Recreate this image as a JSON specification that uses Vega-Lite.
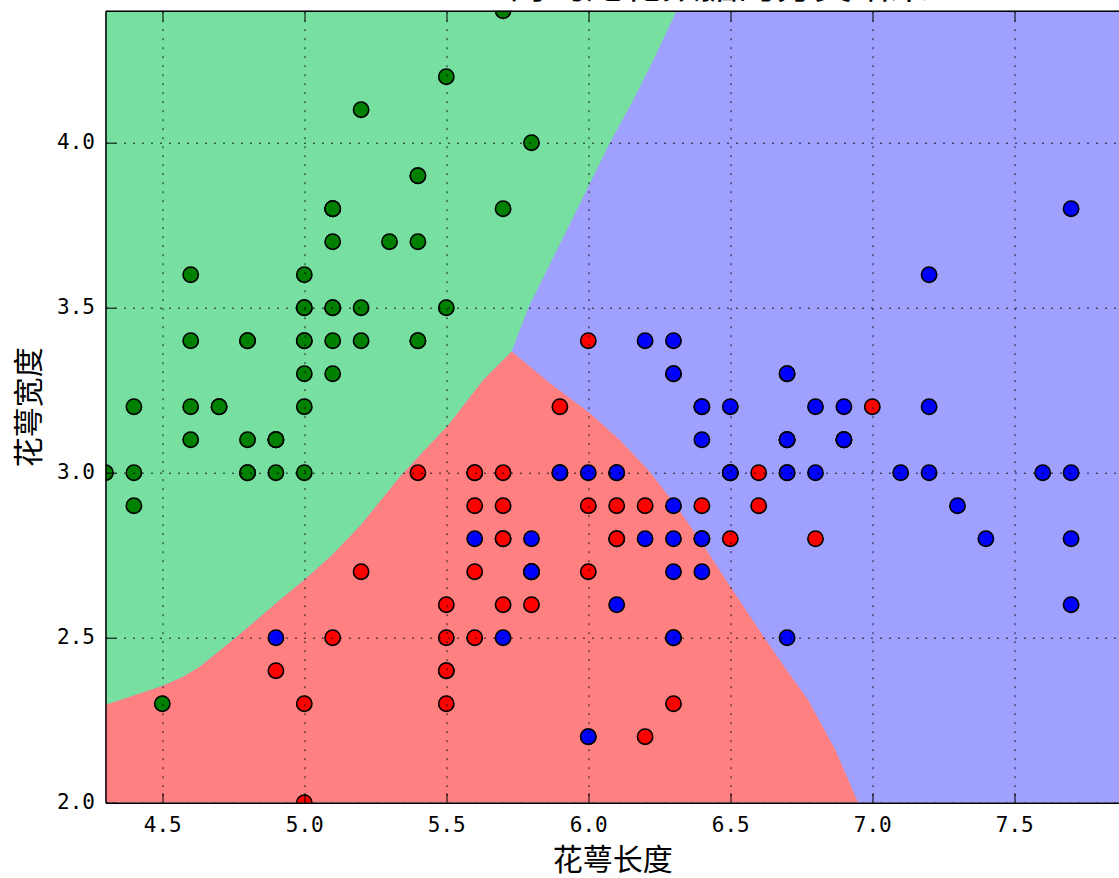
{
  "$schema": "https://vega.github.io/schema/vega-lite/v6.json",
  "width": 1013.5,
  "height": 792,
  "autosize": {"type": "none"},
  "padding": {"left": 105.5, "top": 10.7, "right": 0, "bottom": 75.3},
  "background": "white",
  "title": {"text": "GaussianNB对鸢尾花数据的分类结果", "font": "Noto Sans CJK SC", "fontSize": 38, "fontWeight": "normal", "color": "black", "anchor": "middle", "frame": "group", "offset": 4},
  "datasets": {
    "green": [
      {"x": 4.3, "y": 2.296}, {"x": 4.5, "y": 2.354}, {"x": 4.574, "y": 2.382}, {"x": 4.632, "y": 2.412},
      {"x": 4.756, "y": 2.498}, {"x": 4.914, "y": 2.614}, {"x": 5.0, "y": 2.675}, {"x": 5.1, "y": 2.752},
      {"x": 5.2, "y": 2.842}, {"x": 5.337, "y": 2.988}, {"x": 5.42, "y": 3.065}, {"x": 5.507, "y": 3.144}, {"x": 5.63, "y": 3.281},
      {"x": 5.73, "y": 3.367}, {"x": 5.789, "y": 3.5}, {"x": 5.924, "y": 3.735}, {"x": 6.006, "y": 3.877},
      {"x": 6.076, "y": 4.0}, {"x": 6.158, "y": 4.129}, {"x": 6.229, "y": 4.25}, {"x": 6.311, "y": 4.4}
    ],
    "red": [
      {"x": 4.3, "y": 2.296}, {"x": 4.5, "y": 2.354}, {"x": 4.574, "y": 2.382}, {"x": 4.632, "y": 2.412},
      {"x": 4.756, "y": 2.498}, {"x": 4.914, "y": 2.614}, {"x": 5.0, "y": 2.675}, {"x": 5.1, "y": 2.752},
      {"x": 5.2, "y": 2.842}, {"x": 5.337, "y": 2.988}, {"x": 5.42, "y": 3.065}, {"x": 5.507, "y": 3.144}, {"x": 5.63, "y": 3.281},
      {"x": 5.73, "y": 3.367}, {"x": 5.865, "y": 3.271}, {"x": 6.006, "y": 3.18}, {"x": 6.11, "y": 3.1}, {"x": 6.211, "y": 3.008},
      {"x": 6.3, "y": 2.91}, {"x": 6.39, "y": 2.8}, {"x": 6.5, "y": 2.655}, {"x": 6.62, "y": 2.5}, {"x": 6.7, "y": 2.4}, {"x": 6.774, "y": 2.311},
      {"x": 6.87, "y": 2.16}, {"x": 6.95, "y": 2.0}
    ],
    "points": [
      {"sl":5.1,"sw":3.5,"s":"setosa"},{"sl":4.9,"sw":3.0,"s":"setosa"},{"sl":4.7,"sw":3.2,"s":"setosa"},{"sl":4.6,"sw":3.1,"s":"setosa"},{"sl":5.0,"sw":3.6,"s":"setosa"},
      {"sl":5.4,"sw":3.9,"s":"setosa"},{"sl":4.6,"sw":3.4,"s":"setosa"},{"sl":5.0,"sw":3.4,"s":"setosa"},{"sl":4.4,"sw":2.9,"s":"setosa"},{"sl":4.9,"sw":3.1,"s":"setosa"},
      {"sl":5.4,"sw":3.7,"s":"setosa"},{"sl":4.8,"sw":3.4,"s":"setosa"},{"sl":4.8,"sw":3.0,"s":"setosa"},{"sl":4.3,"sw":3.0,"s":"setosa"},{"sl":5.8,"sw":4.0,"s":"setosa"},
      {"sl":5.7,"sw":4.4,"s":"setosa"},{"sl":5.4,"sw":3.9,"s":"setosa"},{"sl":5.1,"sw":3.5,"s":"setosa"},{"sl":5.7,"sw":3.8,"s":"setosa"},{"sl":5.1,"sw":3.8,"s":"setosa"},
      {"sl":5.4,"sw":3.4,"s":"setosa"},{"sl":5.1,"sw":3.7,"s":"setosa"},{"sl":4.6,"sw":3.6,"s":"setosa"},{"sl":5.1,"sw":3.3,"s":"setosa"},{"sl":4.8,"sw":3.4,"s":"setosa"},
      {"sl":5.0,"sw":3.0,"s":"setosa"},{"sl":5.0,"sw":3.4,"s":"setosa"},{"sl":5.2,"sw":3.5,"s":"setosa"},{"sl":5.2,"sw":3.4,"s":"setosa"},{"sl":4.7,"sw":3.2,"s":"setosa"},
      {"sl":4.8,"sw":3.1,"s":"setosa"},{"sl":5.4,"sw":3.4,"s":"setosa"},{"sl":5.2,"sw":4.1,"s":"setosa"},{"sl":5.5,"sw":4.2,"s":"setosa"},{"sl":4.9,"sw":3.1,"s":"setosa"},
      {"sl":5.0,"sw":3.2,"s":"setosa"},{"sl":5.5,"sw":3.5,"s":"setosa"},{"sl":4.9,"sw":3.1,"s":"setosa"},{"sl":4.4,"sw":3.0,"s":"setosa"},{"sl":5.1,"sw":3.4,"s":"setosa"},
      {"sl":5.0,"sw":3.5,"s":"setosa"},{"sl":4.5,"sw":2.3,"s":"setosa"},{"sl":4.4,"sw":3.2,"s":"setosa"},{"sl":5.0,"sw":3.5,"s":"setosa"},{"sl":5.1,"sw":3.8,"s":"setosa"},
      {"sl":4.8,"sw":3.0,"s":"setosa"},{"sl":5.1,"sw":3.8,"s":"setosa"},{"sl":4.6,"sw":3.2,"s":"setosa"},{"sl":5.3,"sw":3.7,"s":"setosa"},{"sl":5.0,"sw":3.3,"s":"setosa"},
      {"sl":7.0,"sw":3.2,"s":"versicolor"},{"sl":6.4,"sw":3.2,"s":"versicolor"},{"sl":6.9,"sw":3.1,"s":"versicolor"},{"sl":5.5,"sw":2.3,"s":"versicolor"},{"sl":6.5,"sw":2.8,"s":"versicolor"},
      {"sl":5.7,"sw":2.8,"s":"versicolor"},{"sl":6.3,"sw":3.3,"s":"versicolor"},{"sl":4.9,"sw":2.4,"s":"versicolor"},{"sl":6.6,"sw":2.9,"s":"versicolor"},{"sl":5.2,"sw":2.7,"s":"versicolor"},
      {"sl":5.0,"sw":2.0,"s":"versicolor"},{"sl":5.9,"sw":3.0,"s":"versicolor"},{"sl":6.0,"sw":2.2,"s":"versicolor"},{"sl":6.1,"sw":2.9,"s":"versicolor"},{"sl":5.6,"sw":2.9,"s":"versicolor"},
      {"sl":6.7,"sw":3.1,"s":"versicolor"},{"sl":5.6,"sw":3.0,"s":"versicolor"},{"sl":5.8,"sw":2.7,"s":"versicolor"},{"sl":6.2,"sw":2.2,"s":"versicolor"},{"sl":5.6,"sw":2.5,"s":"versicolor"},
      {"sl":5.9,"sw":3.2,"s":"versicolor"},{"sl":6.1,"sw":2.8,"s":"versicolor"},{"sl":6.3,"sw":2.5,"s":"versicolor"},{"sl":6.1,"sw":2.8,"s":"versicolor"},{"sl":6.4,"sw":2.9,"s":"versicolor"},
      {"sl":6.6,"sw":3.0,"s":"versicolor"},{"sl":6.8,"sw":2.8,"s":"versicolor"},{"sl":6.7,"sw":3.0,"s":"versicolor"},{"sl":6.0,"sw":2.9,"s":"versicolor"},{"sl":5.7,"sw":2.6,"s":"versicolor"},
      {"sl":5.5,"sw":2.4,"s":"versicolor"},{"sl":5.5,"sw":2.4,"s":"versicolor"},{"sl":5.8,"sw":2.7,"s":"versicolor"},{"sl":6.0,"sw":2.7,"s":"versicolor"},{"sl":5.4,"sw":3.0,"s":"versicolor"},
      {"sl":6.0,"sw":3.4,"s":"versicolor"},{"sl":6.7,"sw":3.1,"s":"versicolor"},{"sl":6.3,"sw":2.3,"s":"versicolor"},{"sl":5.6,"sw":3.0,"s":"versicolor"},{"sl":5.5,"sw":2.5,"s":"versicolor"},
      {"sl":5.5,"sw":2.6,"s":"versicolor"},{"sl":6.1,"sw":3.0,"s":"versicolor"},{"sl":5.8,"sw":2.6,"s":"versicolor"},{"sl":5.0,"sw":2.3,"s":"versicolor"},{"sl":5.6,"sw":2.7,"s":"versicolor"},
      {"sl":5.7,"sw":3.0,"s":"versicolor"},{"sl":5.7,"sw":2.9,"s":"versicolor"},{"sl":6.2,"sw":2.9,"s":"versicolor"},{"sl":5.1,"sw":2.5,"s":"versicolor"},{"sl":5.7,"sw":2.8,"s":"versicolor"},
      {"sl":6.3,"sw":3.3,"s":"virginica"},{"sl":5.8,"sw":2.7,"s":"virginica"},{"sl":7.1,"sw":3.0,"s":"virginica"},{"sl":6.3,"sw":2.9,"s":"virginica"},{"sl":6.5,"sw":3.0,"s":"virginica"},
      {"sl":7.6,"sw":3.0,"s":"virginica"},{"sl":4.9,"sw":2.5,"s":"virginica"},{"sl":7.3,"sw":2.9,"s":"virginica"},{"sl":6.7,"sw":2.5,"s":"virginica"},{"sl":7.2,"sw":3.6,"s":"virginica"},
      {"sl":6.5,"sw":3.2,"s":"virginica"},{"sl":6.4,"sw":2.7,"s":"virginica"},{"sl":6.8,"sw":3.0,"s":"virginica"},{"sl":5.7,"sw":2.5,"s":"virginica"},{"sl":5.8,"sw":2.8,"s":"virginica"},
      {"sl":6.4,"sw":3.2,"s":"virginica"},{"sl":6.5,"sw":3.0,"s":"virginica"},{"sl":7.7,"sw":3.8,"s":"virginica"},{"sl":7.7,"sw":2.6,"s":"virginica"},{"sl":6.0,"sw":2.2,"s":"virginica"},
      {"sl":6.9,"sw":3.2,"s":"virginica"},{"sl":5.6,"sw":2.8,"s":"virginica"},{"sl":7.7,"sw":2.8,"s":"virginica"},{"sl":6.3,"sw":2.7,"s":"virginica"},{"sl":6.7,"sw":3.3,"s":"virginica"},
      {"sl":7.2,"sw":3.2,"s":"virginica"},{"sl":6.2,"sw":2.8,"s":"virginica"},{"sl":6.1,"sw":3.0,"s":"virginica"},{"sl":6.4,"sw":2.8,"s":"virginica"},{"sl":7.2,"sw":3.0,"s":"virginica"},
      {"sl":7.4,"sw":2.8,"s":"virginica"},{"sl":7.9,"sw":3.8,"s":"virginica"},{"sl":6.4,"sw":2.8,"s":"virginica"},{"sl":6.3,"sw":2.8,"s":"virginica"},{"sl":6.1,"sw":2.6,"s":"virginica"},
      {"sl":7.7,"sw":3.0,"s":"virginica"},{"sl":6.3,"sw":3.4,"s":"virginica"},{"sl":6.4,"sw":3.1,"s":"virginica"},{"sl":6.0,"sw":3.0,"s":"virginica"},{"sl":6.9,"sw":3.1,"s":"virginica"},
      {"sl":6.7,"sw":3.1,"s":"virginica"},{"sl":6.9,"sw":3.1,"s":"virginica"},{"sl":5.8,"sw":2.7,"s":"virginica"},{"sl":6.8,"sw":3.2,"s":"virginica"},{"sl":6.7,"sw":3.3,"s":"virginica"},
      {"sl":6.7,"sw":3.0,"s":"virginica"},{"sl":6.3,"sw":2.5,"s":"virginica"},{"sl":6.5,"sw":3.0,"s":"virginica"},{"sl":6.2,"sw":3.4,"s":"virginica"},{"sl":5.9,"sw":3.0,"s":"virginica"}
    ]
  },
  "layer": [
    {
      "data": {"name": "green"},
      "mark": {"type": "area", "color": "#77E0A0", "opacity": 1, "clip": true},
      "encoding": {
        "x": {"field": "x", "type": "quantitative", "scale": {"domain": [4.3, 7.8687], "nice": false, "zero": false},
              "axis": {"orient": "top", "values": [4.5, 5, 5.5, 6, 6.5, 7, 7.5], "labels": false, "title": null, "grid": false, "tickSize": -10, "zindex": 2}},
        "y": {"field": "y", "type": "quantitative", "scale": {"domain": [2.0, 4.4], "nice": false, "zero": false}, "axis": null},
        "y2": {"datum": 4.4}
      }
    },
    {
      "data": {"name": "red"},
      "mark": {"type": "area", "color": "#FF8080", "opacity": 1, "clip": true},
      "encoding": {
        "x": {"field": "x", "type": "quantitative", "scale": {"domain": [4.3, 7.8687], "nice": false, "zero": false}, "axis": null},
        "y": {"field": "y", "type": "quantitative", "scale": {"domain": [2.0, 4.4], "nice": false, "zero": false}, "axis": null},
        "y2": {"datum": 2.0}
      }
    },
    {
      "data": {"name": "points"},
      "mark": {"type": "circle", "size": 235, "stroke": "black", "strokeWidth": 1.6, "opacity": 1, "clip": true},
      "encoding": {
        "x": {"field": "sl", "type": "quantitative", "scale": {"domain": [4.3, 7.8687], "nice": false, "zero": false},
              "axis": {"orient": "bottom", "values": [4.5, 5, 5.5, 6, 6.5, 7, 7.5], "format": ".1f", "title": "花萼长度", "grid": true, "tickSize": -10, "labelPadding": 22, "titlePadding": 10, "zindex": 2}},
        "y": {"field": "sw", "type": "quantitative", "scale": {"domain": [2.0, 4.4], "nice": false, "zero": false},
              "axis": {"orient": "left", "values": [2.0, 2.5, 3.0, 3.5, 4.0], "format": ".1f", "title": "花萼宽度", "grid": true, "tickSize": -10, "labelPadding": 21, "titlePadding": 12, "zindex": 2}},
        "fill": {"field": "s", "type": "nominal", "scale": {"domain": ["setosa", "versicolor", "virginica"], "range": ["#008000", "#FF0000", "#0000FF"]}, "legend": null}
      }
    }
  ],
  "resolve": {"axis": {"x": "independent", "y": "independent"}},
  "config": {
    "view": {"stroke": null, "fill": "#A0A0FF"},
    "axis": {
      "zindex": 2,
      "domainColor": "black", "domainWidth": 1.5,
      "tickColor": "black", "tickWidth": 1,
      "gridColor": "black", "gridOpacity": 0.85, "gridWidth": 1, "gridDash": [2, 7],
      "labelFont": "DejaVu Sans Mono", "labelFontSize": 21, "labelColor": "black", "labelFlush": false, "labelOverlap": false,
      "titleFont": "Noto Sans CJK SC", "titleFontSize": 30, "titleFontWeight": "normal", "titleColor": "black"
    }
  }
}
